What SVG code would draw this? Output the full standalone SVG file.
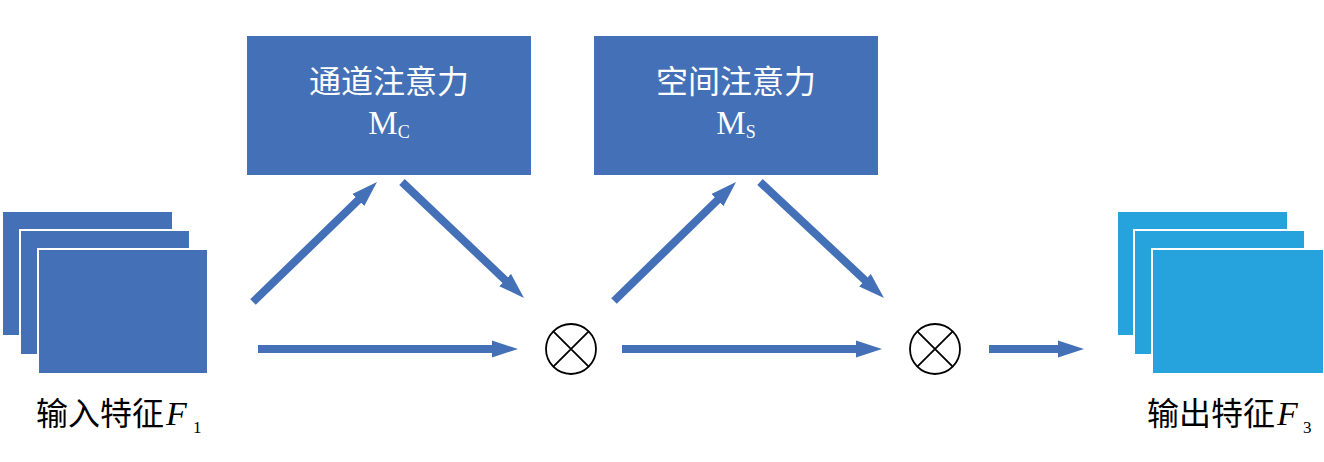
<svg xmlns="http://www.w3.org/2000/svg" width="1324" height="462" viewBox="0 0 1324 462">
<style>
.blue{fill:#4370B6;}
.cyan{fill:#26A3DD;}
.sheet{stroke:#ffffff;stroke-width:2;}
.cjk{font-family:"Noto Sans CJK SC","Liberation Serif",serif;}
.tm{font-family:"Liberation Serif","Times New Roman",serif;}
.lbl{fill:#000000;}
.wt{fill:#ffffff;}
.arr{stroke:#4370B6;stroke-width:8;fill:none;marker-end:url(#ah);}
.op{fill:#ffffff;stroke:#000000;stroke-width:1.8;}
.fi{font-style:italic;font-size:34px;}
.sub{font-size:17px;}
</style>
<defs>
<marker id="ah" markerUnits="userSpaceOnUse" markerWidth="26" markerHeight="18" refX="6" refY="9" orient="auto">
<path d="M0,0.5 L26,9 L0,17.5 z" fill="#4370B6"/>
</marker>
</defs>
<rect width="1324" height="462" fill="#ffffff"/>

<g id="input">
<rect class="blue sheet" x="2" y="211" width="171" height="125"/>
<rect class="blue sheet" x="20" y="230" width="170" height="125"/>
<rect class="blue sheet" x="38" y="249" width="170" height="125"/>
<text x="36" y="425" class="lbl cjk" font-size="32">输入特征</text>
<text x="166" y="425" class="lbl tm fi">F</text>
<text x="193" y="433" class="lbl tm sub">1</text>
</g>

<g id="channel">
<rect class="blue" x="247" y="36" width="284" height="139"/>
<text x="389" y="93" class="cjk wt" font-size="32" text-anchor="middle">通道注意力</text>
<text x="389" y="134" class="tm wt" font-size="33" text-anchor="middle">M<tspan font-size="18" dy="4">C</tspan></text>
</g>

<g id="spatial">
<rect class="blue" x="594" y="36" width="284" height="139"/>
<text x="736" y="93" class="cjk wt" font-size="32" text-anchor="middle">空间注意力</text>
<text x="736" y="134" class="tm wt" font-size="33" text-anchor="middle">M<tspan font-size="18" dy="4">S</tspan></text>
</g>

<g id="mul1">
<circle class="op" cx="571" cy="349" r="25"/>
<path class="op" d="M553.3,331.3 L588.7,366.7 M588.7,331.3 L553.3,366.7"/>
</g>

<g id="mul2">
<circle class="op" cx="935" cy="349" r="25"/>
<path class="op" d="M917.3,331.3 L952.7,366.7 M952.7,331.3 L917.3,366.7"/>
</g>

<g id="output">
<rect class="cyan sheet" x="1117" y="211" width="171" height="125"/>
<rect class="cyan sheet" x="1134" y="230" width="171" height="125"/>
<rect class="cyan sheet" x="1152" y="249" width="172" height="125"/>
<text x="1147" y="425" class="lbl cjk" font-size="32">输出特征</text>
<text x="1277" y="425" class="lbl tm fi">F</text>
<text x="1303" y="433" class="lbl tm sub">3</text>
</g>

<g id="connectors">
<line class="arr" x1="253" y1="302" x2="362.6" y2="195.9"/>
<line class="arr" x1="402" y1="182" x2="509.5" y2="284.2"/>
<line class="arr" x1="258" y1="349" x2="498" y2="349"/>
<line class="arr" x1="614" y1="301" x2="721.7" y2="196"/>
<line class="arr" x1="760" y1="182" x2="869.4" y2="284.3"/>
<line class="arr" x1="622" y1="349" x2="862" y2="349"/>
<line class="arr" x1="989" y1="349" x2="1064" y2="349"/>
</g>
</svg>
